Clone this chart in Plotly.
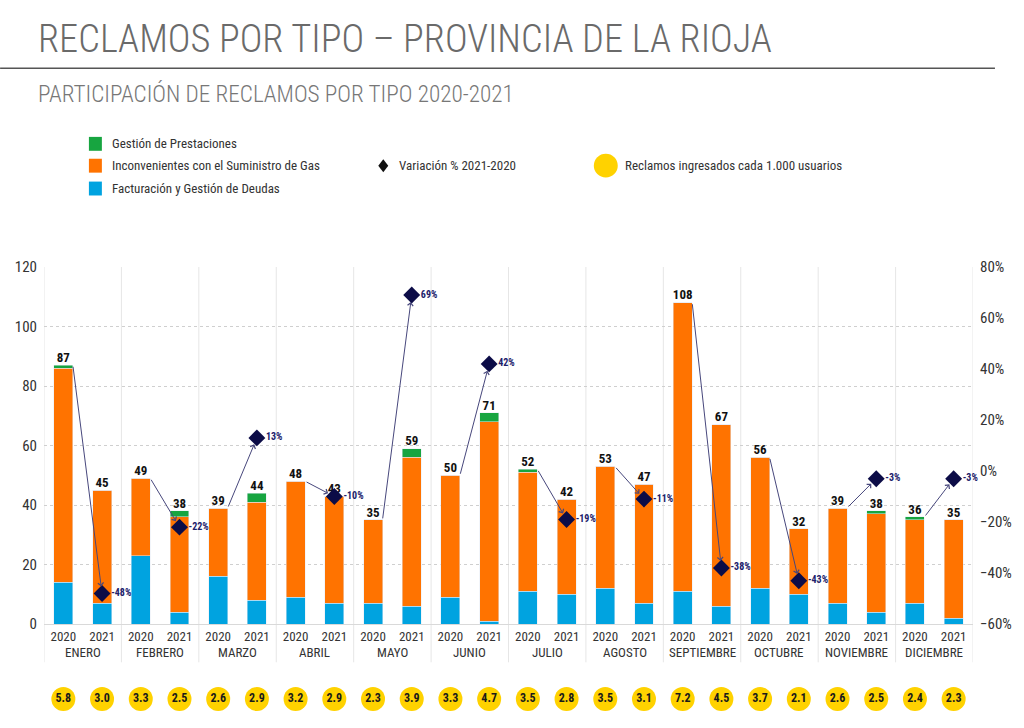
import plotly.graph_objects as go

# ---------------- data ----------------
months = ["ENERO", "FEBRERO", "MARZO", "ABRIL", "MAYO", "JUNIO", "JULIO",
          "AGOSTO", "SEPTIEMBRE", "OCTUBRE", "NOVIEMBRE", "DICIEMBRE"]
years = ["2020", "2021"]
facturacion = [14, 7, 23, 4, 16, 8, 9, 7, 7, 6, 9, 1, 11, 10, 12, 7, 11, 6, 12, 10, 7, 4, 7, 2]
suministro = [72, 38, 26, 32, 23, 33, 39, 36, 28, 50, 41, 67, 40, 32, 41, 40, 97, 61, 44, 22, 32, 33, 28, 33]
prestaciones = [1, 0, 0, 2, 0, 3, 0, 0, 0, 3, 0, 3, 1, 0, 0, 0, 0, 0, 0, 0, 0, 1, 1, 0]
variacion = [-48, -22, 13, -10, 69, 42, -19, -11, -38, -43, -3, -3]
por_mil = [5.8, 3.0, 3.3, 2.5, 2.6, 2.9, 3.2, 2.9, 2.3, 3.9, 3.3, 4.7,
           3.5, 2.8, 3.5, 3.1, 7.2, 4.5, 3.7, 2.1, 2.6, 2.5, 2.4, 2.3]

# ---------------- styling ----------------
W, H = 1024, 728
ML, MR, MT, MB = 44, 49, 267, 18
PW, PH = W - ML - MR, H - MT - MB
NARROW = "Roboto Condensed, Liberation Sans Narrow, Arial Narrow, DejaVu Sans Condensed, Roboto, sans-serif"
C_BLUE, C_ORANGE, C_GREEN, C_YELLOW = "#00a3e0", "#ff7300", "#17a540", "#ffd200"
C_NAVY = "#0c0c47"
Y1 = (0, 120)
Y2 = (-60, 80)


def px(xp):
    return (xp - ML) / PW


def py(yp):
    return (H - MB - yp) / PH


n = len(facturacion)
idx = list(range(n))
totals = [a + b + c for a, b, c in zip(facturacion, suministro, prestaciones)]
year_labels = years * len(months)

fig = go.Figure()
fig.add_bar(x=idx, y=facturacion, name="Facturación y Gestión de Deudas",
            marker_color=C_BLUE, showlegend=False, hoverinfo="skip")
fig.add_bar(x=idx, y=suministro, name="Inconvenientes con el Suministro de Gas",
            marker_color=C_ORANGE, showlegend=False, hoverinfo="skip")
fig.add_bar(x=idx, y=prestaciones, name="Gestión de Prestaciones",
            marker_color=C_GREEN, showlegend=False, hoverinfo="skip")

fig.add_scatter(x=idx, y=totals, mode="text", text=[str(t) for t in totals],
                textposition="top center", showlegend=False, hoverinfo="skip",
                textfont=dict(family=NARROW, size=13, color="#111", weight="bold"))

xs_2021 = [2 * i + 1 for i in range(len(months))]
fig.add_scatter(x=xs_2021, y=variacion, yaxis="y2", mode="markers+text",
                marker=dict(symbol="diamond", size=13, color=C_NAVY),
                text=[f"{v}%" for v in variacion], textposition="middle right",
                textfont=dict(family=NARROW, size=10, color="#20206a", weight="bold"),
                showlegend=False, hoverinfo="skip", cliponaxis=False)

fig.add_scatter(x=idx, y=[0] * n, yaxis="y3", mode="markers+text",
                marker=dict(size=24, color=C_YELLOW),
                text=[f"{v:.1f}" for v in por_mil], textposition="middle center",
                textfont=dict(family=NARROW, size=12, color="#1a1a1a", weight="bold"),
                showlegend=False, hoverinfo="skip", cliponaxis=False)

annotations = []
shapes = []

# arrows from 2020 bar top to variation diamond
scale = (Y1[1] - Y1[0]) / (Y2[1] - Y2[0])
for i, v in enumerate(variacion):
    annotations.append(dict(
        x=2 * i + 1, y=Y1[0] + (v - Y2[0]) * scale, xref="x", yref="y",
        ax=2 * i + 0.245, ay=totals[2 * i], axref="x", ayref="y",
        text="", showarrow=True, arrowhead=4, arrowsize=1.1, arrowwidth=1,
        arrowcolor="#47477c", standoff=7))

# month labels
for i, m in enumerate(months):
    annotations.append(dict(x=2 * i + 0.5, y=py(655), xref="x", yref="paper",
                            text=m, showarrow=False, yanchor="middle",
                            font=dict(family=NARROW, size=13, color="#333")))

# month dividers
for k in range(0, n + 1, 2):
    shapes.append(dict(type="line", xref="x", yref="paper", x0=k - 0.5, x1=k - 0.5,
                       y0=py(665), y1=1, line=dict(color="#e6e6e6", width=1), layer="below"))

# title, rule, subtitle
annotations.append(dict(x=px(36), y=py(37), xref="paper", yref="paper", xanchor="left",
                        yanchor="middle", showarrow=False,
                        text="RECLAMOS POR TIPO – PROVINCIA DE LA RIOJA",
                        font=dict(family=NARROW, size=38.4, color="#6a6a6a", weight=300)))
shapes.append(dict(type="line", xref="paper", yref="paper", x0=px(0), x1=px(997),
                   y0=py(67), y1=py(67), line=dict(color="#555", width=1.5)))
annotations.append(dict(x=px(36), y=py(93), xref="paper", yref="paper", xanchor="left",
                        yanchor="middle", showarrow=False,
                        text="PARTICIPACIÓN DE RECLAMOS POR TIPO 2020-2021",
                        font=dict(family=NARROW, size=23.2, color="#777", weight=300)))

# legend
leg_items = [("Gestión de Prestaciones", C_GREEN, 143),
             ("Inconvenientes con el Suministro de Gas", C_ORANGE, 165),
             ("Facturación y Gestión de Deudas", C_BLUE, 188)]
for label, col, yc in leg_items:
    shapes.append(dict(type="rect", xref="paper", yref="paper", x0=px(89), x1=px(102),
                       y0=py(yc - 7), y1=py(yc + 7), fillcolor=col, line=dict(width=0)))
    annotations.append(dict(x=px(110), y=py(yc), xref="paper", yref="paper", xanchor="left",
                            yanchor="middle", showarrow=False, text=label,
                            font=dict(family=NARROW, size=13, color="#333")))
dx, dy, dcx, dcy = 5, 6.5, 384, 165
shapes.append(dict(type="path", xref="paper", yref="paper",
                   path=f"M {px(dcx - dx)},{py(dcy)} L {px(dcx)},{py(dcy - dy)} "
                        f"L {px(dcx + dx)},{py(dcy)} L {px(dcx)},{py(dcy + dy)} Z",
                   fillcolor="#111", line=dict(width=0)))
annotations.append(dict(x=px(398), y=py(165), xref="paper", yref="paper", xanchor="left",
                        yanchor="middle", showarrow=False, text="Variación % 2021-2020",
                        font=dict(family=NARROW, size=13, color="#333")))
shapes.append(dict(type="circle", xref="paper", yref="paper", x0=px(595), x1=px(619),
                   y0=py(177), y1=py(153), fillcolor=C_YELLOW, line=dict(width=0)))
annotations.append(dict(x=px(624), y=py(165), xref="paper", yref="paper", xanchor="left",
                        yanchor="middle", showarrow=False,
                        text="Reclamos ingresados cada 1.000 usuarios",
                        font=dict(family=NARROW, size=13, color="#333")))

fig.update_layout(
    width=W, height=H, margin=dict(l=ML, r=MR, t=MT, b=MB),
    paper_bgcolor="white", plot_bgcolor="white",
    barmode="stack", bargap=0.51,
    font=dict(family=NARROW, color="#333"),
    xaxis=dict(range=[-0.5, n - 0.5], tickmode="array", tickvals=idx, ticktext=year_labels,
               showgrid=False, zeroline=False, showline=True, linecolor="#d9d9d9",
               tickfont=dict(family=NARROW, size=13, color="#333"), anchor="y", fixedrange=True),
    yaxis=dict(domain=[py(626.5), 1], range=list(Y1), dtick=20, showgrid=True,
               gridcolor="#cfcfcf", griddash="dot", zeroline=False,
               tickfont=dict(family=NARROW, size=15, color="#333"), ticklabelstandoff=6),
    yaxis2=dict(overlaying="y", side="right", range=list(Y2), dtick=20, ticksuffix="%",
                showgrid=False, zeroline=False,
                tickfont=dict(family=NARROW, size=15, color="#333"), ticklabelstandoff=6),
    yaxis3=dict(domain=[0, 2 * py(702)], range=[-1, 1], visible=False, anchor="x"),
    annotations=annotations, shapes=shapes,
)

fig.write_html("out.html", config={"displayModeBar": False},
               post_script="document.body.style.margin='0';document.body.style.overflow='hidden';")
